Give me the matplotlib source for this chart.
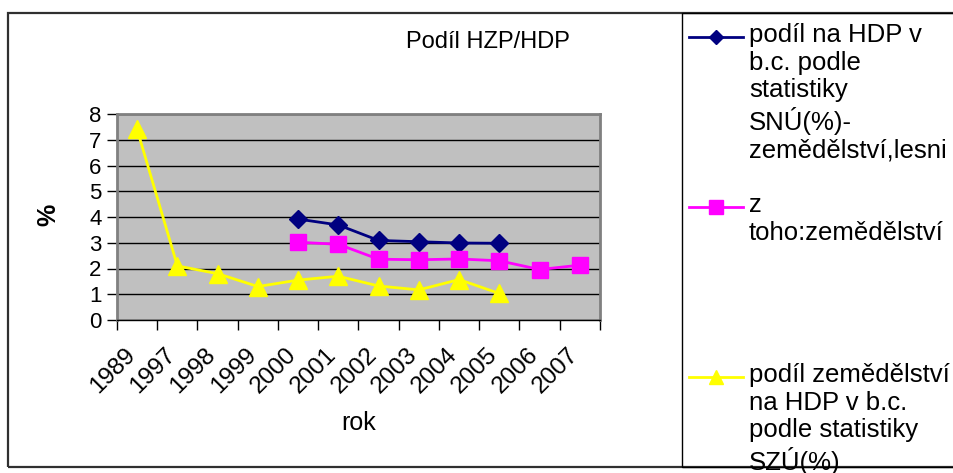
import matplotlib
matplotlib.use("Agg")
import matplotlib.pyplot as plt
from matplotlib.patches import Rectangle
from matplotlib.lines import Line2D
from matplotlib.transforms import ScaledTranslation
import numpy as np

plt.rcParams['font.family'] = ['Liberation Sans', 'DejaVu Sans']

years = ["1989", "1997", "1998", "1999", "2000", "2001", "2002", "2003",
         "2004", "2005", "2006", "2007"]
snu_total = [None, None, None, None, 3.92, 3.69, 3.09, 3.04, 2.99, 2.98, None, None]
snu_agri = [None, None, None, None, 3.02, 2.94, 2.36, 2.34, 2.37, 2.30, 1.96, 2.13]
szu_agri = [7.4, 2.1, 1.8, 1.3, 1.55, 1.7, 1.32, 1.17, 1.57, 1.03, None, None]

label_total = "podíl na HDP v\nb.c. podle\nstatistiky\nSNÚ(%)-\nzemědělství,lesni"
label_agri = "z\ntoho:zemědělství"
label_szu = "podíl zemědělství\nna HDP v b.c.\npodle statistiky\nSZÚ(%)"

W, H = 954, 473
fig = plt.figure(figsize=(W / 100, H / 100), dpi=100)

# outer frame and legend box
fig.add_artist(Rectangle((8 / W, 1 - 467 / H), (W + 5 - 8) / W, (467 - 13) / H,
                         transform=fig.transFigure, fill=False,
                         edgecolor='#303030', linewidth=1.6))
fig.add_artist(Rectangle((682 / W, 1 - 467 / H), (W + 5 - 682) / W, (467 - 13) / H,
                         transform=fig.transFigure, fill=False,
                         edgecolor='black', linewidth=1.0))

ax = fig.add_axes([117 / W, 1 - 320 / H, (600 - 117) / W, (320 - 114) / H])
ax.set_facecolor('#C0C0C0')

x = np.arange(len(years))


def arr(v):
    return np.array([np.nan if a is None else a for a in v], dtype=float)


styles = [
    (snu_total, '#000080', 'D', 9.5, label_total),
    (snu_agri, '#FF00FF', 's', 12, label_agri),
    (szu_agri, '#FFFF00', '^', 12.5, label_szu),
]
for vals, col, mk, ms, lab in styles:
    ax.plot(x, arr(vals), color=col, lw=2, marker=mk, markersize=ms,
            label=lab, zorder=3)

ax.set_xlim(-0.5, len(years) - 0.5)
ax.set_ylim(0, 8)
ax.set_yticks(range(0, 9))
ax.yaxis.grid(True, color='black', linewidth=1.0)
ax.set_axisbelow(True)

ax.set_xticks(np.arange(-0.5, len(years), 1.0))
ax.set_xticklabels([])
ax.set_xticks(x, minor=True)
ax.set_xticklabels(years, minor=True, rotation=45, ha='right',
                   rotation_mode='anchor', fontsize=17.5)
ax.tick_params(axis='x', which='minor', length=0, pad=17)
ax.tick_params(axis='x', which='major', length=7, width=1, direction='out')
ax.tick_params(axis='y', length=7, width=1, direction='out', labelsize=16, pad=4)
off = ScaledTranslation(-13 / 100, 0, fig.dpi_scale_trans)
for lbl in ax.get_xticklabels(minor=True):
    lbl.set_transform(lbl.get_transform() + off)

for s in ['top', 'right', 'left']:
    ax.spines[s].set_color('#808080')
    ax.spines[s].set_linewidth(2)
ax.spines['bottom'].set_color('black')
ax.spines['bottom'].set_linewidth(1)

ax.set_xlabel("rok", fontsize=18, labelpad=0)
ax.xaxis.set_label_coords(0.5, -(423 - 320) / (320 - 114))
ax.xaxis.label.set_va('center')
fig.text(48 / W, 1 - 215 / H, "%", rotation=90, fontsize=18,
         fontweight='bold', ha='center', va='center')
fig.text(488 / W, 1 - 42 / H, "Podíl HZP/HDP", fontsize=17,
         ha='center', va='center')

# legend (Excel-style: key aligned with first text line)
leg_y = [37, 207, 377]
for (vals, col, mk, ms, lab), yk in zip(styles, leg_y):
    yf = 1 - yk / H
    fig.add_artist(Line2D([689 / W, 743 / W], [yf, yf], transform=fig.transFigure,
                          color=col, lw=2, marker=None))
    fig.add_artist(Line2D([716 / W], [yf], transform=fig.transFigure,
                          color=col, marker=mk, markersize=ms * 0.8, lw=0))
    fig.text(749 / W, 1 - (yk - 14) / H, lab, fontsize=18.5, ha='left',
             va='top', linespacing=1.19)

fig.savefig("out.png", dpi=100)
